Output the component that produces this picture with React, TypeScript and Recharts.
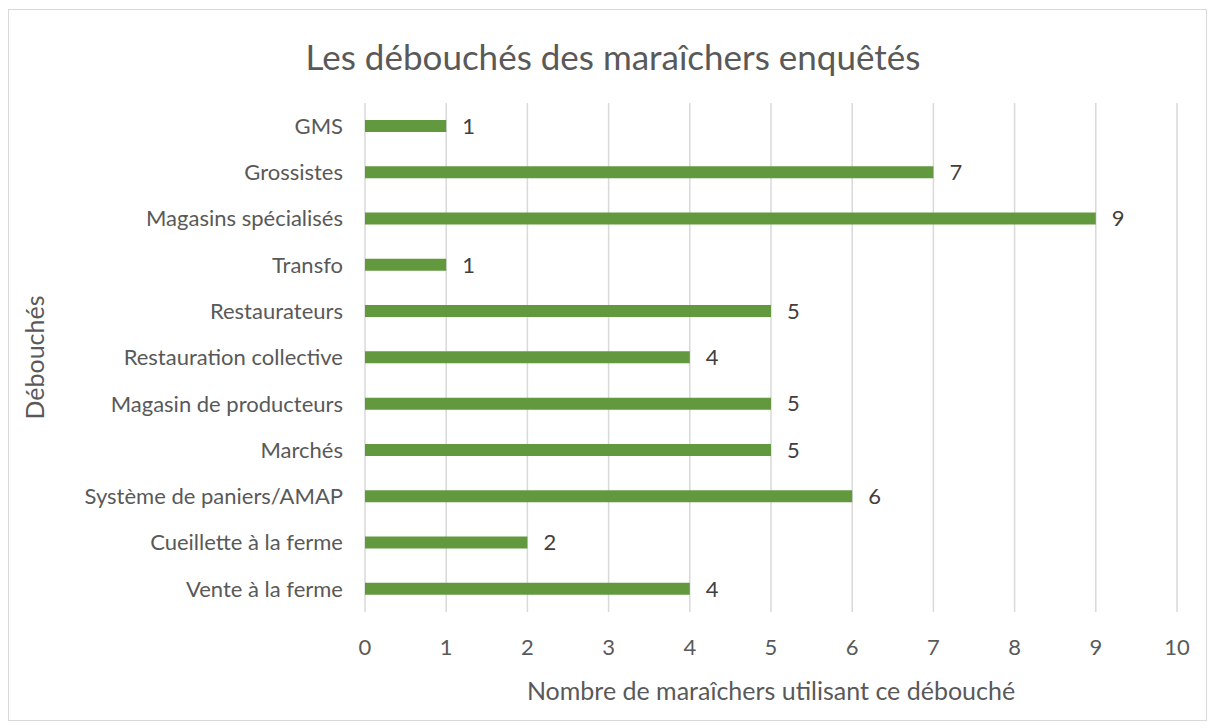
import React from 'react';
import { BarChart, Bar, XAxis, YAxis, CartesianGrid, LabelList, Label } from 'recharts';

const categories = [
  'GMS',
  'Grossistes',
  'Magasins spécialisés',
  'Transfo',
  'Restaurateurs',
  'Restauration collective',
  'Magasin de producteurs',
  'Marchés',
  'Système de paniers/AMAP',
  'Cueillette à la ferme',
  'Vente à la ferme',
];
const counts = [1, 7, 9, 1, 5, 4, 5, 5, 6, 2, 4];
const xTicks = [0, 1, 2, 3, 4, 5, 6, 7, 8, 9, 10];

const title = 'Les débouchés des maraîchers enquêtés';
const xTitle = 'Nombre de maraîchers utilisant ce débouché';
const yTitle = 'Débouchés';

const data = categories.map((name, i) => ({ name, value: counts[i] }));

const FONT = 'Lato, "Open Sans", sans-serif';
const TEXT = '#595959';

const App: React.FC = () => {
  return (
    <div
      style={{
        width: 1197,
        height: 710,
        border: '1px solid #d9d9d9',
        marginTop: 1,
        background: '#fff',
        fontFamily: FONT,
      }}
    >
      <BarChart
        width={1197}
        height={710}
        data={data}
        layout="vertical"
        margin={{ top: 93, right: 29, left: 0, bottom: 0 }}
      >
        <text x={604} y={46} textAnchor="middle" dominantBaseline="central" fontSize={35} fill={TEXT} fontFamily={FONT}>
          {title}
        </text>
        <CartesianGrid horizontal={false} stroke="#d9d9d9" strokeWidth={1.5} />
        <XAxis
          type="number"
          domain={[0, 10]}
          ticks={xTicks}
          axisLine={false}
          tickLine={false}
          tickSize={0}
          tickMargin={27}
          height={108}
          tick={{ fill: TEXT, fontSize: 22, fontFamily: FONT }}
        >
          <Label
            content={({ viewBox }: any) => (
              <text
                x={viewBox.x + viewBox.width / 2}
                y={680}
                textAnchor="middle"
                dominantBaseline="central"
                fontSize={25}
                fill={TEXT}
                fontFamily={FONT}
              >
                {xTitle}
              </text>
            )}
          />
        </XAxis>
        <YAxis
          type="category"
          dataKey="name"
          width={356}
          axisLine={false}
          tickLine={false}
          tickSize={0}
          tickMargin={22}
          interval={0}
          tick={{ fill: TEXT, fontSize: 22, fontFamily: FONT }}
        >
          <Label
            content={({ viewBox }: any) => (
              <text
                x={25}
                y={viewBox.y + viewBox.height / 2}
                textAnchor="middle"
                dominantBaseline="central"
                fontSize={25}
                fill={TEXT}
                fontFamily={FONT}
                transform={`rotate(-90 25 ${viewBox.y + viewBox.height / 2})`}
              >
                {yTitle}
              </text>
            )}
          />
        </YAxis>
        <Bar dataKey="value" fill="#62993e" barSize={12} isAnimationActive={false}>
          <LabelList dataKey="value" position="right" offset={16} fill="#404040" fontSize={22} fontFamily={FONT} />
        </Bar>
      </BarChart>
    </div>
  );
};

export default App;
